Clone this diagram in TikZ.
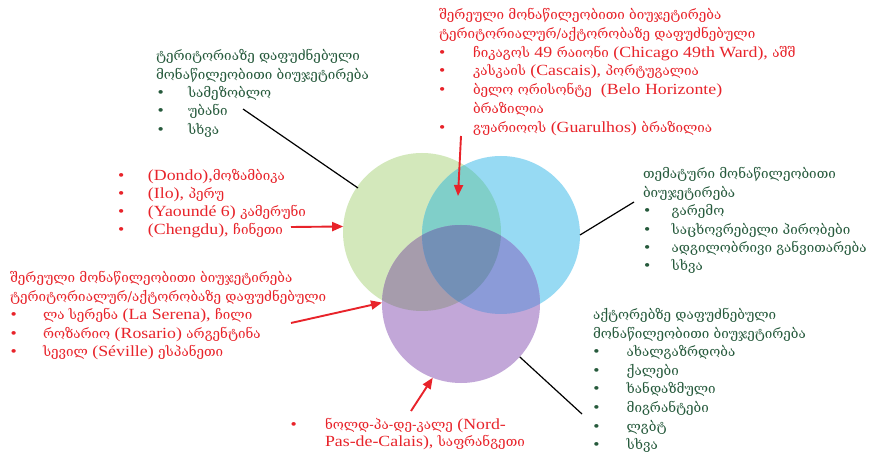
\documentclass[tikz,border=0pt]{standalone}
\usepackage{fontspec}
\setmainfont{Liberation Serif}[FakeStretch=1.15]
\newfontfamily\kafont{DejaVu Serif}[Scale=0.865]
\usetikzlibrary{arrows.meta}
\definecolor{cgreen}{HTML}{D3E8BB}
\definecolor{cblue}{HTML}{97DAF3}
\definecolor{cpurple}{HTML}{C2A7D8}
\definecolor{cGB}{HTML}{80CFC9}
\definecolor{cGP}{HTML}{A69CAC}
\definecolor{cBP}{HTML}{8B9BD8}
\definecolor{cAll}{HTML}{7390B6}
\definecolor{tgreen}{HTML}{265A3C}
\definecolor{tred}{HTML}{E8232A}
\newcommand\ka[1]{{\kafont #1}}
\newcommand\tl[1]{\hbox{#1}}
\newcommand\bi[3]{\hbox{\rlap{\kern#1pt\textbullet}\kern#2pt\relax #3}}
\newcommand\blk[2]{\vtop{\baselineskip=#1pt\lineskiplimit=-100pt\lineskip=0pt #2}}
\tikzset{
  txt/.style={anchor=base west, inner sep=0pt, outer sep=0pt, font=\fontsize{15.5}{18}\selectfont},
  gtxt/.style={txt, text=tgreen},
  rtxt/.style={txt, text=tred},
  venn/.style={circle, minimum size=158pt, inner sep=0pt, outer sep=0pt},
  redarrow/.style={draw=tred, line width=1.9pt, -{Triangle[length=11pt,width=9pt]}},
  blackline/.style={draw=black, line width=1.2pt},
}
\begin{document}
\begin{tikzpicture}[x=1pt,y=-1pt]
\fill[white] (0,0) rectangle (871,457);
\useasboundingbox (0,0) rectangle (871,457);
% circles
\node[venn] (G) at (422,232) {};
\node[venn] (B) at (501,235) {};
\node[venn] (P) at (461,304) {};
\fill[cgreen] (G.center) circle[radius=79pt];
\fill[cblue] (B.center) circle[radius=79pt];
\fill[cpurple] (P.center) circle[radius=79pt];
\begin{scope}
  \clip (G.center) circle[radius=79pt];
  \fill[cGB] (B.center) circle[radius=79pt];
  \fill[cGP] (P.center) circle[radius=79pt];
\end{scope}
\begin{scope}
  \clip (B.center) circle[radius=79pt];
  \fill[cBP] (P.center) circle[radius=79pt];
\end{scope}
\begin{scope}
  \clip (G.center) circle[radius=79pt];
  \clip (B.center) circle[radius=79pt];
  \fill[cAll] (P.center) circle[radius=79pt];
\end{scope}
% text blocks
\node[gtxt] (tl) at (156,61) {\blk{18.3}{%
  \tl{\ka{ტერიტორიაზე დაფუძნებული}}
  \tl{\ka{მონაწილეობითი ბიუჯეტირება}}
  \bi{1.5}{32}{\ka{სამეზობლო}}
  \bi{1.5}{32}{\ka{უბანი}}
  \bi{1.5}{32}{\ka{სხვა}}}};
\node[rtxt] (tr) at (439,19.5) {\blk{18.8}{%
  \tl{\ka{შერეული მონაწილეობითი ბიუჯეტირება}}
  \tl{\ka{ტერიტორიალურ/აქტორობაზე დაფუძნებული}}
  \bi{0}{34}{\ka{ჩიკაგოს} 49 \ka{რაიონი} (Chicago 49th Ward), \ka{აშშ}}
  \bi{0}{34}{\ka{კასკაის} (Cascais), \ka{პორტუგალია}}
  \bi{0}{34}{\ka{ბელო ორისონტე}\ \ (Belo Horizonte)}
  \hbox{\kern34pt\ka{ბრაზილია}}
  \bi{0}{34}{\ka{გუარიოოს} (Guarulhos) \ka{ბრაზილია}}}};
\node[rtxt] (l1) at (118,180.5) {\blk{18}{%
  \bi{0}{30}{(Dondo),\ka{მოზამბიკა}}
  \bi{0}{30}{(Ilo), \ka{პერუ}}
  \bi{0}{30}{(Yaoundé 6) \ka{კამერუნი}}
  \bi{0}{30}{(Chengdu), \ka{ჩინეთი}}}};
\node[rtxt] (l2) at (10,283) {\blk{18.4}{%
  \tl{\ka{შერეული მონაწილეობითი ბიუჯეტირება}}
  \tl{\ka{ტერიტორიალურ/აქტორობაზე დაფუძნებული}}
  \bi{0.5}{33}{\ka{ლა სერენა} (La Serena), \ka{ჩილი}}
  \bi{0.5}{33}{\ka{როზარიო} (Rosario) \ka{არგენტინა}}
  \bi{0.5}{33}{\ka{სევილ} (Séville) \ka{ესპანეთი}}}};
\node[gtxt] (r1) at (643,179) {\blk{18.4}{%
  \tl{\ka{თემატური მონაწილეობითი}}
  \tl{\ka{ბიუჯეტირება}}
  \bi{1}{28.7}{\ka{გარემო}}
  \bi{1}{28.7}{\ka{საცხოვრებელი პირობები}}
  \bi{1}{28.7}{\ka{ადგილობრივი განვითარება}}
  \bi{1}{28.7}{\ka{სხვა}}}};
\node[gtxt] (r2) at (593,319.5) {\blk{18.6}{%
  \tl{\ka{აქტორებზე დაფუძნებული}}
  \tl{\ka{მონაწილეობითი ბიუჯეტირება}}
  \bi{0.3}{33.7}{\ka{ახალგაზრდობა}}
  \bi{0.3}{33.7}{\ka{ქალები}}
  \bi{0.3}{33.7}{\ka{ხანდაზმული}}
  \bi{0.3}{33.7}{\ka{მიგრანტები}}
  \bi{0.3}{33.7}{\ka{ლგბტ}}
  \bi{0.3}{33.7}{\ka{სხვა}}}};
\node[rtxt] (bt) at (290.5,429.3) {\blk{17.4}{%
  \bi{0}{34.5}{\ka{ნოლდ-პა-დე-კალე} (Nord-}
  \hbox{\kern34.5pt Pas-de-Calais), \ka{საფრანგეთი}}}};
% connector ends
\coordinate (a1s) at (291,227);
\coordinate (a2s) at (461,136);
\coordinate (a2e) at (458,196);
\coordinate (a3s) at (291,323);
\coordinate (a4s) at (411,411);
\coordinate (l1s) at (243,109);
\coordinate (l1e) at (358,188);
\coordinate (l2e) at (634,202);
\coordinate (l3e) at (582,414);
% connectors
\draw[blackline] (l1s) -- (l1e);
\draw[blackline] (B.0) -- (l2e);
\draw[blackline] (P.-42) -- (l3e);
\draw[redarrow] (a1s) -- (G.176);
\draw[redarrow] (a2s) -- (a2e);
\draw[redarrow] (a3s) -- (P.179);
\draw[redarrow] (a4s) -- (P.-111);
\end{tikzpicture}
\end{document}
